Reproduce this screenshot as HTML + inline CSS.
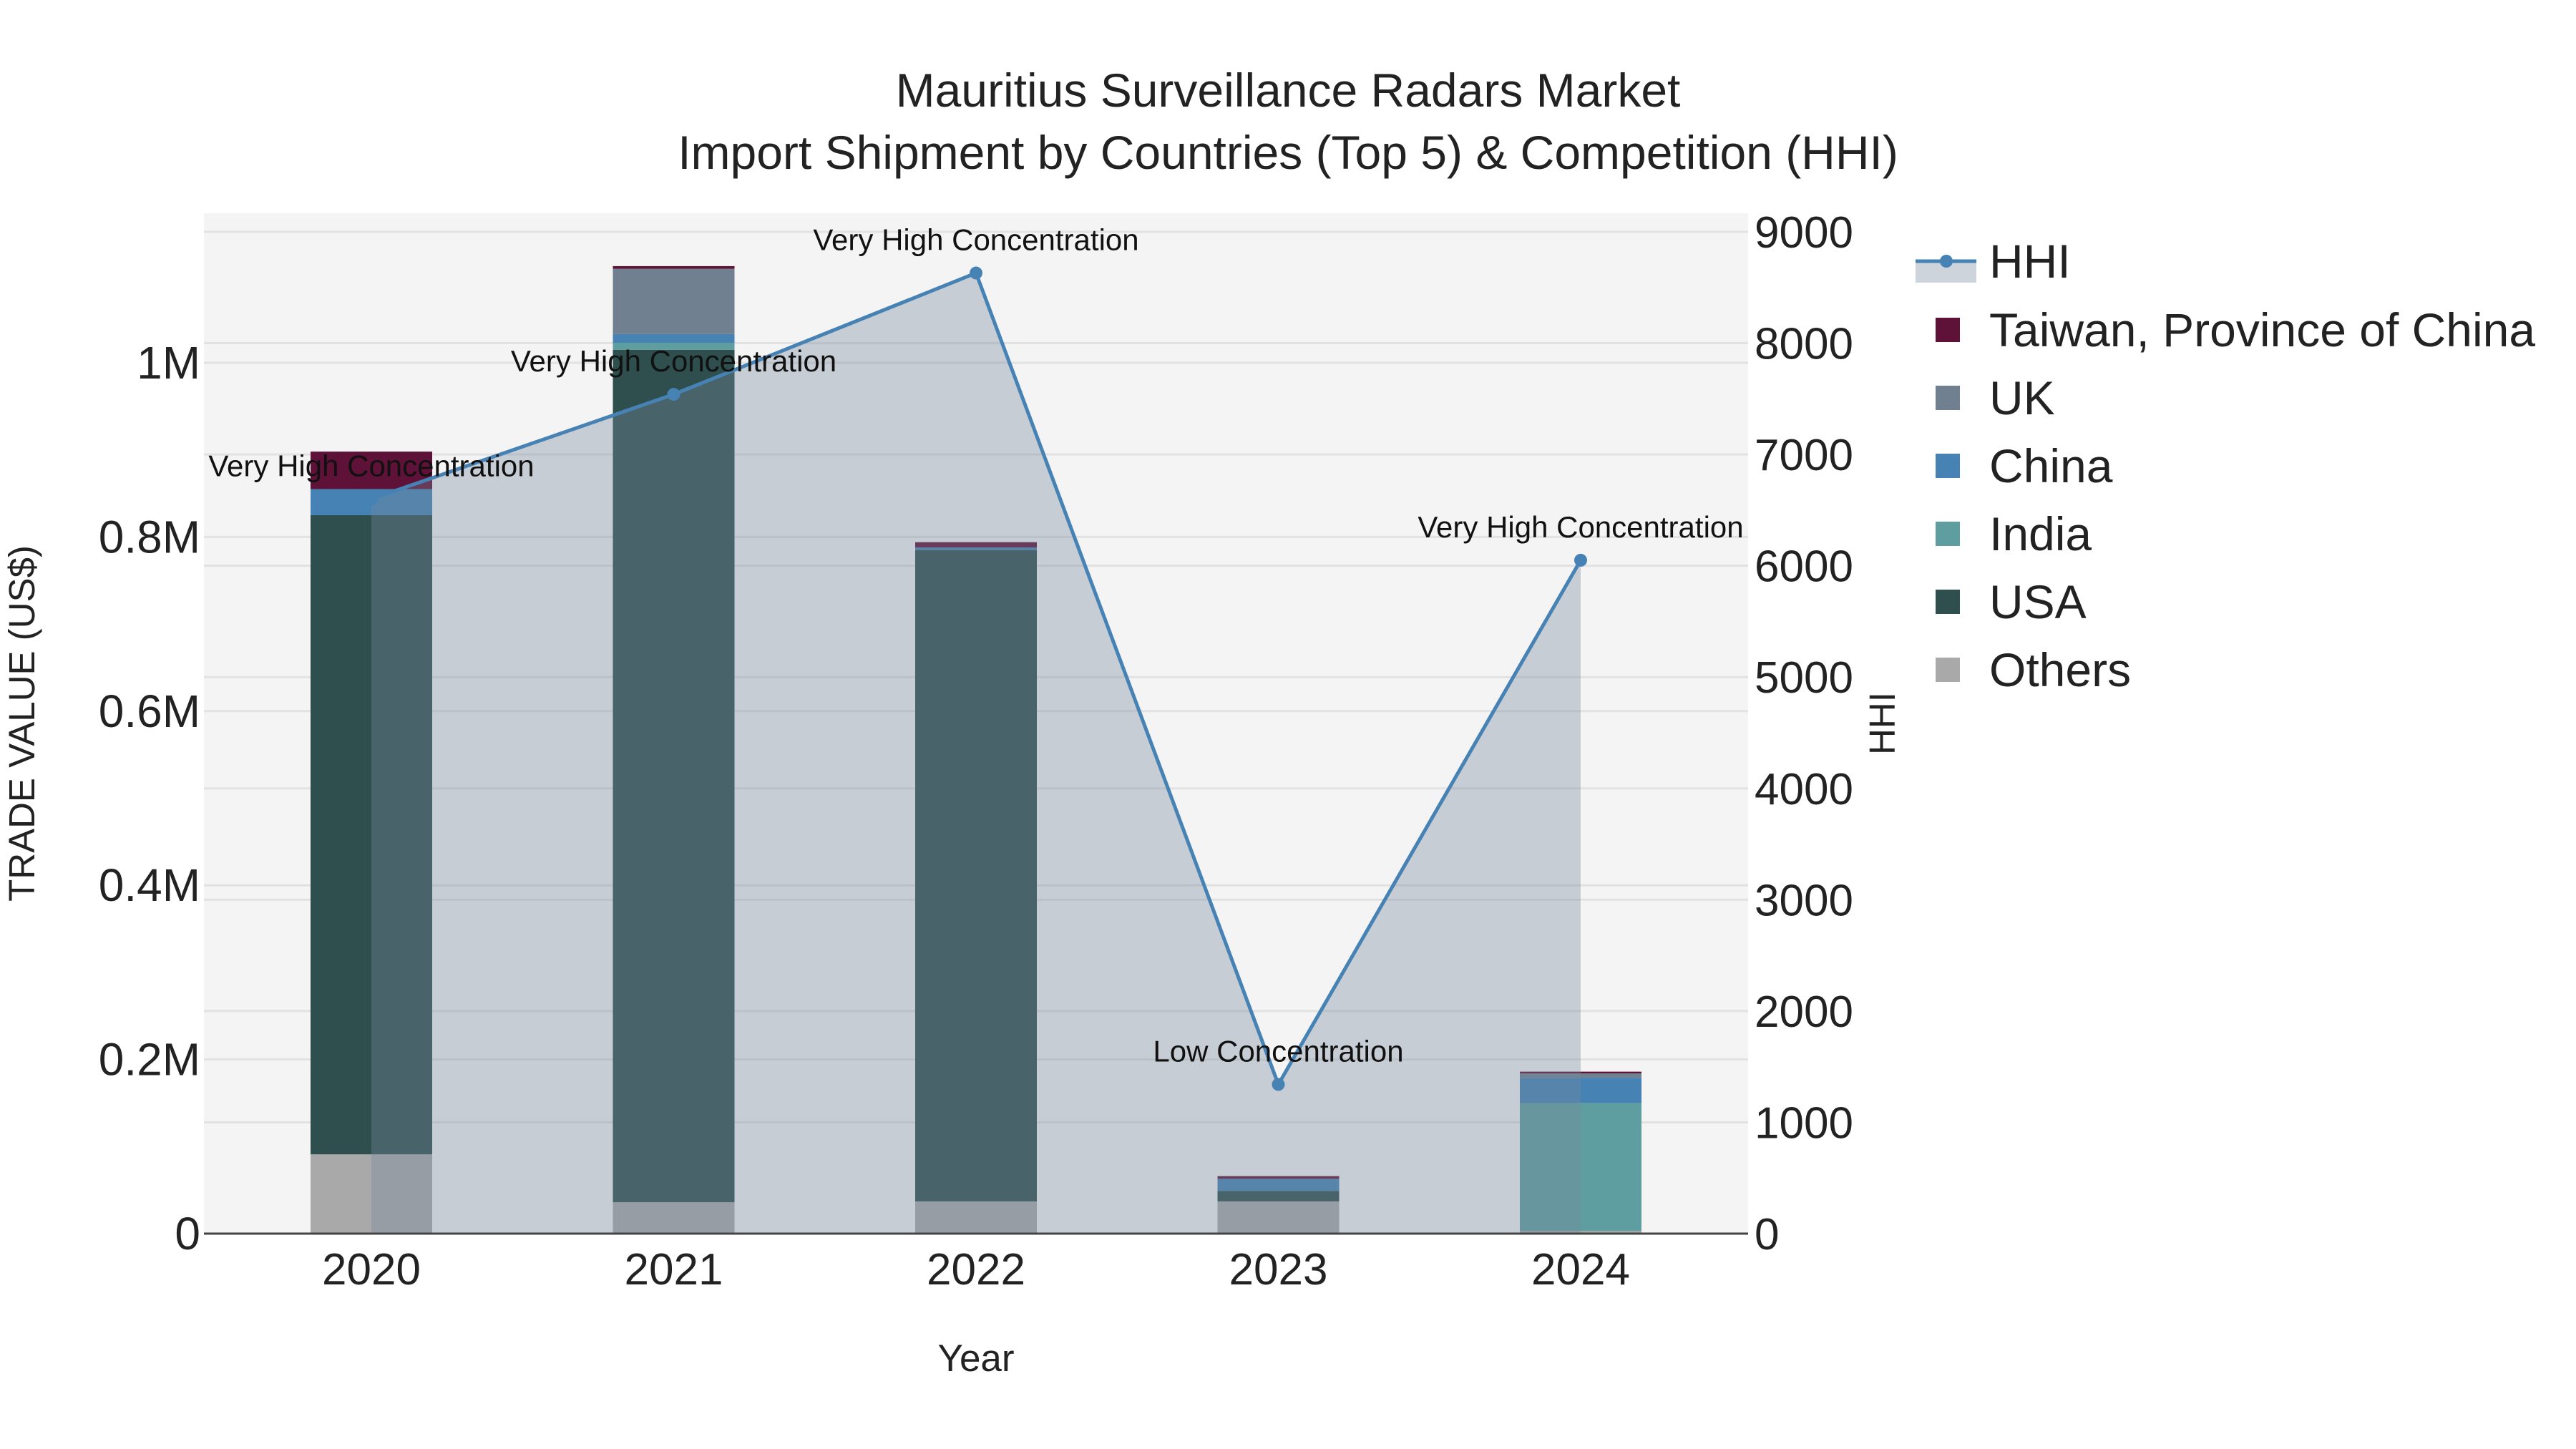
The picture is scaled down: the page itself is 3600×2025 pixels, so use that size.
<!DOCTYPE html>
<html><head><meta charset="utf-8"><style>
html,body{margin:0;padding:0;background:#fff}
svg{display:block;font-family:"Liberation Sans",sans-serif}
</style></head><body>
<svg id="chart" width="3600" height="2025" viewBox="0 0 3600 2025" xmlns="http://www.w3.org/2000/svg">
<rect x="285" y="298" width="2158" height="1426" fill="#f4f4f4"/>
<g id="grid"></g><g id="bars"></g><g id="area"></g><g id="line"></g><g id="labels"></g>
<text x="1800" y="149" font-size="66" text-anchor="middle" fill="#222">Mauritius Surveillance Radars Market</text>
<text x="1800" y="236" font-size="66" text-anchor="middle" fill="#222">Import Shipment by Countries (Top 5) &amp; Competition (HHI)</text>
<text x="1364" y="1916" font-size="53" text-anchor="middle" fill="#222">Year</text>
<text transform="translate(48,1011) rotate(-90)" font-size="51" text-anchor="middle" fill="#222">TRADE VALUE (US$)</text>
<text transform="translate(2648,1011) rotate(-90)" font-size="51" text-anchor="middle" fill="#222">HHI</text>
<g id="legend"></g>
</svg>
<script>
const years=["2020","2021","2022","2023","2024"];
const others=[0.091,0.036,0.037,0.037,0.003];
const usa=[0.734,0.979,0.748,0.012,0.0];
const india=[0.0,0.008,0.0,0.0,0.147];
const china=[0.030,0.010,0.003,0.014,0.029];
const uk=[0.0,0.075,0.0,0.0,0.005];
const taiwan=[0.043,0.003,0.006,0.003,0.002];
const hhi=[6600,7540,8630,1340,6050];
const hhiLabels=["Very High Concentration","Very High Concentration","Very High Concentration","Low Concentration","Very High Concentration"];
const yTicks=[0,0.2,0.4,0.6,0.8,1.0];
const yTickLabels=["0","0.2M","0.4M","0.6M","0.8M","1M"];
const hTicks=[0,1000,2000,3000,4000,5000,6000,7000,8000,9000];

const NS="http://www.w3.org/2000/svg";
const L=285,R=2443,T=298,B=1724;
const xS=i=>519+i*422.5;
const yL=v=>B-v*1217;
const yR=h=>B-h*(B-324)/9000;
function mk(tag,attrs,parent){const e=document.createElementNS(NS,tag);for(const k in attrs)e.setAttribute(k,attrs[k]);document.getElementById(parent).appendChild(e);return e;}

yTicks.forEach((v,i)=>{
  if(i>0){const g=mk("line",{x1:L,x2:R,y1:yL(v),y2:yL(v),stroke:"#e2e2e2","stroke-width":3},"grid");
  
  }
  const t=mk("text",{x:280,y:yL(v)+22,"font-size":64,"text-anchor":"end",fill:"#222"},"labels");t.textContent=yTickLabels[i];
  
  
});
hTicks.forEach(h=>{
  if(h>0){const g=mk("line",{x1:L,x2:R,y1:yR(h),y2:yR(h),stroke:"#e2e2e2","stroke-width":3},"grid");
  
  }
  const t=mk("text",{x:2452,y:yR(h)+22,"font-size":62,fill:"#222"},"labels");t.textContent=h;
  
  
});
const series=[["others",others,"#a9a9a9"],["usa",usa,"#2f4f4f"],["india",india,"#5f9ea0"],["china",china,"#4682b4"],["uk",uk,"#708090"],["taiwan",taiwan,"#5e1237"]];
years.forEach((y,i)=>{
  let base=0;
  series.forEach(([n,arr,c])=>{
    const v=arr[i];if(v<=0)return;
    const r=mk("rect",{x:xS(i)-85,y:yL(base+v),width:170,height:yL(base)-yL(base+v),fill:c},"bars");
    
    
    base+=v;
  });
  const t=mk("text",{x:xS(i),y:1795,"font-size":62,"text-anchor":"middle",fill:"#222"},"labels");t.textContent=y;
  
  
});
const ax=mk("line",{x1:L,x2:R,y1:B,y2:B,stroke:"#444","stroke-width":3},"labels");


let d="M"+xS(0)+","+yR(0);hhi.forEach((h,i)=>d+=" L"+xS(i)+","+yR(h));d+=" L"+xS(hhi.length-1)+","+yR(0)+"Z";
const a=mk("path",{d:d,fill:"rgba(120,135,155,0.36)"},"area");


const pl=mk("polyline",{points:hhi.map((h,i)=>xS(i)+","+yR(h)).join(" "),fill:"none",stroke:"#4682b4","stroke-width":5},"line");


hhi.forEach((h,i)=>{
  const c=mk("circle",{cx:xS(i),cy:yR(h),r:9,fill:"#4682b4"},"line");
  
  
  const t=mk("text",{x:xS(i),y:yR(h)-32,"font-size":42,"text-anchor":"middle",fill:"#111"},"labels");t.textContent=hhiLabels[i];
  
  
});
const legItems=[["Taiwan, Province of China","#5e1237"],["UK","#708090"],["China","#4682b4"],["India","#5f9ea0"],["USA","#2f4f4f"],["Others","#a9a9a9"]];
const lr=mk("rect",{x:2677,y:365,width:85,height:30,fill:"rgba(120,135,155,0.36)"},"legend");


const ll=mk("line",{x1:2677,x2:2762,y1:365,y2:365,stroke:"#4682b4","stroke-width":5},"legend");


const lc=mk("circle",{cx:2720,cy:365,r:9,fill:"#4682b4"},"legend");


const lt=mk("text",{x:2780,y:388,"font-size":66,fill:"#222"},"legend");lt.textContent="HHI";


legItems.forEach(([n,c],i)=>{
  const yc=461+i*95;
  const r=mk("rect",{x:2705,y:yc-17,width:34,height:34,fill:c},"legend");
  
  
  const t=mk("text",{x:2780,y:yc+23,"font-size":66,fill:"#222"},"legend");t.textContent=n;
  
  
});
</script>
</body></html>
